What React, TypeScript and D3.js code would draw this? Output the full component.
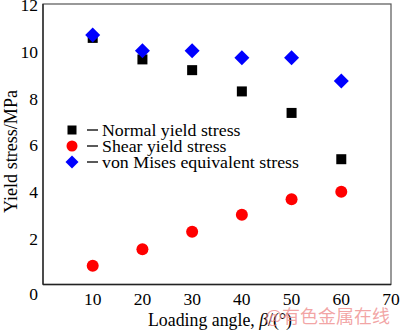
import React from "react";
import * as d3 from "d3";

const angles = [10, 20, 30, 40, 50, 60];
const normalStress = [10.55, 9.63, 9.17, 8.26, 7.34, 5.36];
const shearStress = [0.8, 1.51, 2.26, 2.98, 3.65, 3.97];
const vonMisesStress = [10.67, 10.0, 10.0, 9.7, 9.7, 8.71];
const xTicks = [10, 20, 30, 40, 50, 60, 70];
const yTicks = [2, 4, 6, 8, 10, 12];
const legendLabels = ["Normal yield stress", "Shear yield stress", "von Mises equivalent stress"];
const legendWidths = [138.5, 124.5, 197];

const W = 400, H = 332;
const left = 43, right = 391, top = 4, bottom = 284.5;

export default function App() {
  const x = d3.scaleLinear().domain([0, 70]).range([left, right]);
  const y = d3.scaleLinear().domain([0, 12]).range([bottom, top]);
  const font = "'Liberation Serif', 'Times New Roman', serif";
  const sq = 10;
  const diamond = (cx: number, cy: number, r: number) =>
    `M${cx},${cy - r}L${cx + r},${cy}L${cx},${cy + r}L${cx - r},${cy}Z`;

  return (
    <svg width={W} height={H} style={{ position: "absolute", left: 0, top: 0, background: "#fff" }}
      fontFamily={font}>
      <rect x={0} y={0} width={W} height={H} fill="#fff" />
      <rect x={left} y={top} width={right - left} height={bottom - top} fill="none" stroke="#555" strokeWidth={1.2} />
      <line x1={left} x2={left} y1={top} y2={bottom} stroke="#222" strokeWidth={1.3} />
      <line x1={left} x2={right} y1={bottom} y2={bottom} stroke="#222" strokeWidth={1.3} />
      {yTicks.map(t => (
        <text key={t} x={38} y={y(t) + 1} dy="0.35em" textAnchor="end" fontSize={17.5}>{t}</text>
      ))}
      <text x={38} y={294} dy="0.35em" textAnchor="end" fontSize={17.5}>0</text>
      {xTicks.map(t => (
        <text key={t} x={x(t)} y={298.5} dy="0.35em" textAnchor="middle" fontSize={17.5}>{t}</text>
      ))}
      <text x={148} y={326} fontSize={18} textLength={144} lengthAdjust="spacingAndGlyphs">
        Loading angle, <tspan fontStyle="italic">β</tspan>/(°)
      </text>
      <text transform={`translate(17,151.5) rotate(-90)`} textAnchor="middle" fontSize={18}
        textLength={123} lengthAdjust="spacingAndGlyphs">Yield stress/MPa</text>

      {angles.map((a, i) => (
        <rect key={"n" + i} x={x(a) - sq / 2} y={y(normalStress[i]) - sq / 2} width={sq} height={sq} fill="#000" />
      ))}
      {angles.map((a, i) => (
        <circle key={"s" + i} cx={x(a)} cy={y(shearStress[i])} r={6} fill="#f00" />
      ))}
      {angles.map((a, i) => (
        <path key={"v" + i} d={diamond(x(a), y(vonMisesStress[i]), 7.5)} fill="#00f" />
      ))}

      <rect x={72 - 4.5} y={130 - 4.5} width={9} height={9} fill="#000" />
      <circle cx={72} cy={146} r={5.5} fill="#f00" />
      <path d={diamond(72, 162, 6.5)} fill="#00f" />
      {legendLabels.map((l, i) => (
        <g key={l}>
          <line x1={87} x2={98} y1={130 + i * 16} y2={130 + i * 16} stroke="#000" strokeWidth={1.3} />
          <text x={102} y={130 + i * 16} dy="0.35em" fontSize={17.5}
            textLength={legendWidths[i]} lengthAdjust="spacingAndGlyphs">{l}</text>
        </g>
      ))}
      <text x={390} y={323} textAnchor="end" fontSize={18} fill="#e88" fillOpacity={0.75}
        fontFamily="'Noto Sans CJK SC', sans-serif">@有色金属在线</text>
    </svg>
  );
}
